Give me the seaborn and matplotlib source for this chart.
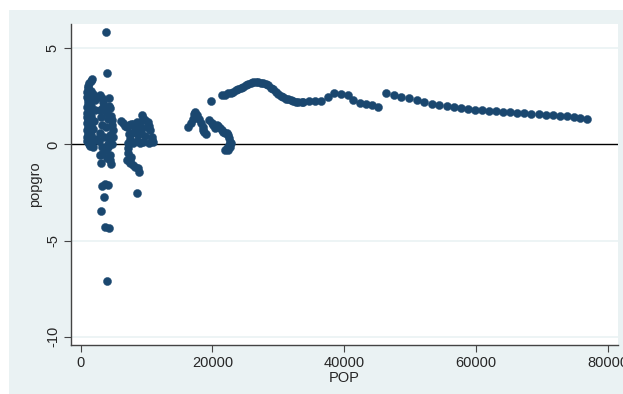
import matplotlib
matplotlib.use("Agg")
import matplotlib.pyplot as plt
import matplotlib.patches as mpatches
import pandas as pd
import seaborn as sns

# left column (small countries)
pop_a = [1760, 1500, 1310, 1150, 1150, 1000, 1000, 1100, 1150, 1000, 1200, 1000, 1000, 1150, 1000,
         1150, 1000, 1100, 1000, 1000, 1200, 1410, 1910, 1700, 1600, 1500, 1600, 1500, 1700, 1600,
         1900, 2100, 2000, 1800, 2200, 2300, 1300, 1400]
gro_a = [3.38, 3.30, 3.17, 3.05, 2.91, 2.75, 2.47, 2.30, 2.15, 1.95, 1.80, 1.62, 1.43, 1.25, 1.10,
         0.91, 0.75, 0.55, 0.40, 0.20, 0.05, -0.09, -0.12, 0.10, 0.50, 1.00, 1.50, 2.00, 2.50, 2.80,
         2.60, 2.30, 1.20, 0.80, 1.80, 0.30, 0.00, 2.60]

# second column incl. outliers
pop_b = [2930, 3200, 3430, 3430, 3700, 3950, 4450, 4300, 4700, 4950, 4450, 4190, 4450, 4550, 3190,
         2930, 3040, 3300, 2800, 3000, 3300, 3100, 2900, 3600, 3900, 4100, 4600, 4800, 4400, 4200,
         3800, 4000, 4700, 4500, 4850,
         3800, 3990, 4340, 3190, 3690, 4190, 3580, 3080, 3690, 4300, 3990]
gro_b = [2.56, 2.40, 2.20, 1.95, 1.80, 1.61, 1.87, 2.00, 1.26, 0.74, 0.22, -0.12, -0.56, -1.02, -0.12,
         -0.56, -0.96, -0.50, 0.20, 0.60, 1.00, 1.40, 1.80, 0.40, 0.90, 1.30, 1.50, 1.00, 0.50, 0.00,
         -0.30, -0.70, 0.00, -0.80, 0.40,
         5.82, 3.69, 2.39, -2.17, -2.07, -2.13, -2.72, -3.45, -4.32, -4.37, -7.09]

# third cluster
pop_c = [6070, 6400, 6800, 7100, 7300, 7700, 8000, 8500, 8900, 9260, 9500, 9760, 10260, 10400, 10520,
         10780, 10780, 11000, 10300, 9500, 9000, 8500, 7990, 7500, 7230, 7300, 7800, 8200, 8700, 9200,
         9700, 10000, 9000, 7230, 7230, 7480, 7600, 7990, 8240, 8740, 8850, 6980, 7480, 8500]
gro_c = [1.21, 1.10, 0.98, 0.90, 1.00, 1.08, 1.05, 1.18, 1.10, 1.52, 1.35, 1.26, 1.18, 0.95, 0.74,
         0.40, 0.22, 0.10, 0.05, 0.10, 0.05, 0.20, 0.05, 0.30, 0.05, 0.55, 0.60, 0.80, 0.50, 0.70,
         0.45, 0.90, 0.95, -0.20, -0.47, -0.82, -0.64, -1.08, -1.16, -1.25, -1.42, -0.82, -0.99, -2.52]

# cluster around 16000-23000
pop_d = [16340, 16700, 17000, 17250, 17400, 17700, 18000, 18310, 18520, 18760, 19020, 18610,
         19730, 19520, 19880, 20130, 20390, 20640, 20890, 21150, 21400, 21650, 21900, 22160, 22410,
         22560, 22660, 22560, 22250, 21900, 22410, 22660, 22820]
gro_d = [0.92, 1.09, 1.30, 1.56, 1.70, 1.52, 1.30, 1.09, 0.88, 0.66, 0.54, 0.74,
         2.25, 1.26, 1.09, 1.00, 0.83, 1.00, 0.95, 0.83, 0.74, 0.66, 0.57, 0.57, 0.48,
         0.31, 0.14, -0.04, -0.21, -0.30, -0.30, -0.16, 0.05]

# long trajectory
pop_e = [21430, 21900, 22410, 22820, 23160, 23570, 23920, 24330, 24680, 25090, 25440, 25850, 26200,
         26610, 26960, 27370, 27720, 28130, 28480, 28890, 29240, 29650, 30000, 30410, 30750, 31160,
         31510, 31920, 32270, 32680, 33030, 33550, 33790, 34700, 35570, 36480, 37590, 38500, 39560,
         40530, 41380, 42400, 43310, 44170, 45080,
         46300, 47500, 48650, 49820, 50990, 52100, 53270, 54380, 55550, 56610, 57720, 58830, 59800,
         60860, 61920, 62990, 64050, 65160, 66220, 67330, 68400, 69520, 70580, 71650, 72710, 73770,
         74840, 75840, 76810]
gro_e = [2.56, 2.59, 2.65, 2.69, 2.74, 2.81, 2.88, 2.93, 3.00, 3.07, 3.14, 3.19, 3.24,
         3.26, 3.24, 3.21, 3.17, 3.14, 3.08, 2.95, 2.88, 2.72, 2.60, 2.51, 2.44, 2.38,
         2.34, 2.29, 2.25, 2.22, 2.18, 2.18, 2.20, 2.25, 2.27, 2.25, 2.47, 2.68, 2.60,
         2.56, 2.30, 2.15, 2.08, 2.03, 1.95,
         2.67, 2.58, 2.47, 2.41, 2.30, 2.18, 2.11, 2.06, 2.01, 1.95, 1.90, 1.84, 1.78,
         1.77, 1.73, 1.72, 1.70, 1.66, 1.64, 1.61, 1.59, 1.58, 1.52, 1.51, 1.49, 1.46,
         1.40, 1.37, 1.32]

df = pd.DataFrame({
    "POP": pop_a + pop_b + pop_c + pop_d + pop_e,
    "popgro": gro_a + gro_b + gro_c + gro_d + gro_e,
})

sns.set_style("white")
plt.rcParams['font.family'] = ['Liberation Sans', 'DejaVu Sans']

navy = "#1A476F"
region = "#EAF2F3"

fig = plt.figure(figsize=(6.23, 3.94), dpi=100)
fig.patch.set_facecolor("white")
fig.patches.append(mpatches.Rectangle((9 / 623, 0), 1 - 9 / 623, 1 - 10 / 394,
                                      transform=fig.transFigure, facecolor=region,
                                      edgecolor="none", zorder=-10))
ax = fig.add_axes([71 / 623, 1 - 345 / 394, (618 - 71) / 623, (345 - 24) / 394])
ax.set_facecolor("white")

for yv in [5, -5, -10]:
    ax.axhline(yv, color=region, lw=1.2, zorder=0)
ax.axhline(0, color="black", lw=1.0, zorder=1)

sns.scatterplot(data=df, x="POP", y="popgro", ax=ax, color=navy, s=34,
                edgecolor=navy, linewidth=0.3, zorder=3)

ax.set_xlim(-1472, 81560)
ax.set_ylim(-10.43, 6.26)
ax.set_xticks([0, 20000, 40000, 60000, 80000])
ax.set_xticklabels(["0", "20000", "40000", "60000", "80000"])
ax.set_yticks([-10, -5, 0, 5])
ax.set_yticklabels(["-10", "-5", "0", "5"], rotation=90, va="center")

for s in ["top", "right"]:
    ax.spines[s].set_visible(False)
for s in ["left", "bottom"]:
    ax.spines[s].set_color("#444444")
    ax.spines[s].set_linewidth(1.0)

ax.tick_params(axis="both", which="major", length=5, width=0.8, color="#444444",
               labelsize=10.5, pad=3, direction="out", left=True, bottom=True)
ax.set_xlabel("POP", fontsize=10.5, labelpad=1)
ax.set_ylabel("popgro", fontsize=10.5, labelpad=3)

fig.savefig("out.png", dpi=100)
